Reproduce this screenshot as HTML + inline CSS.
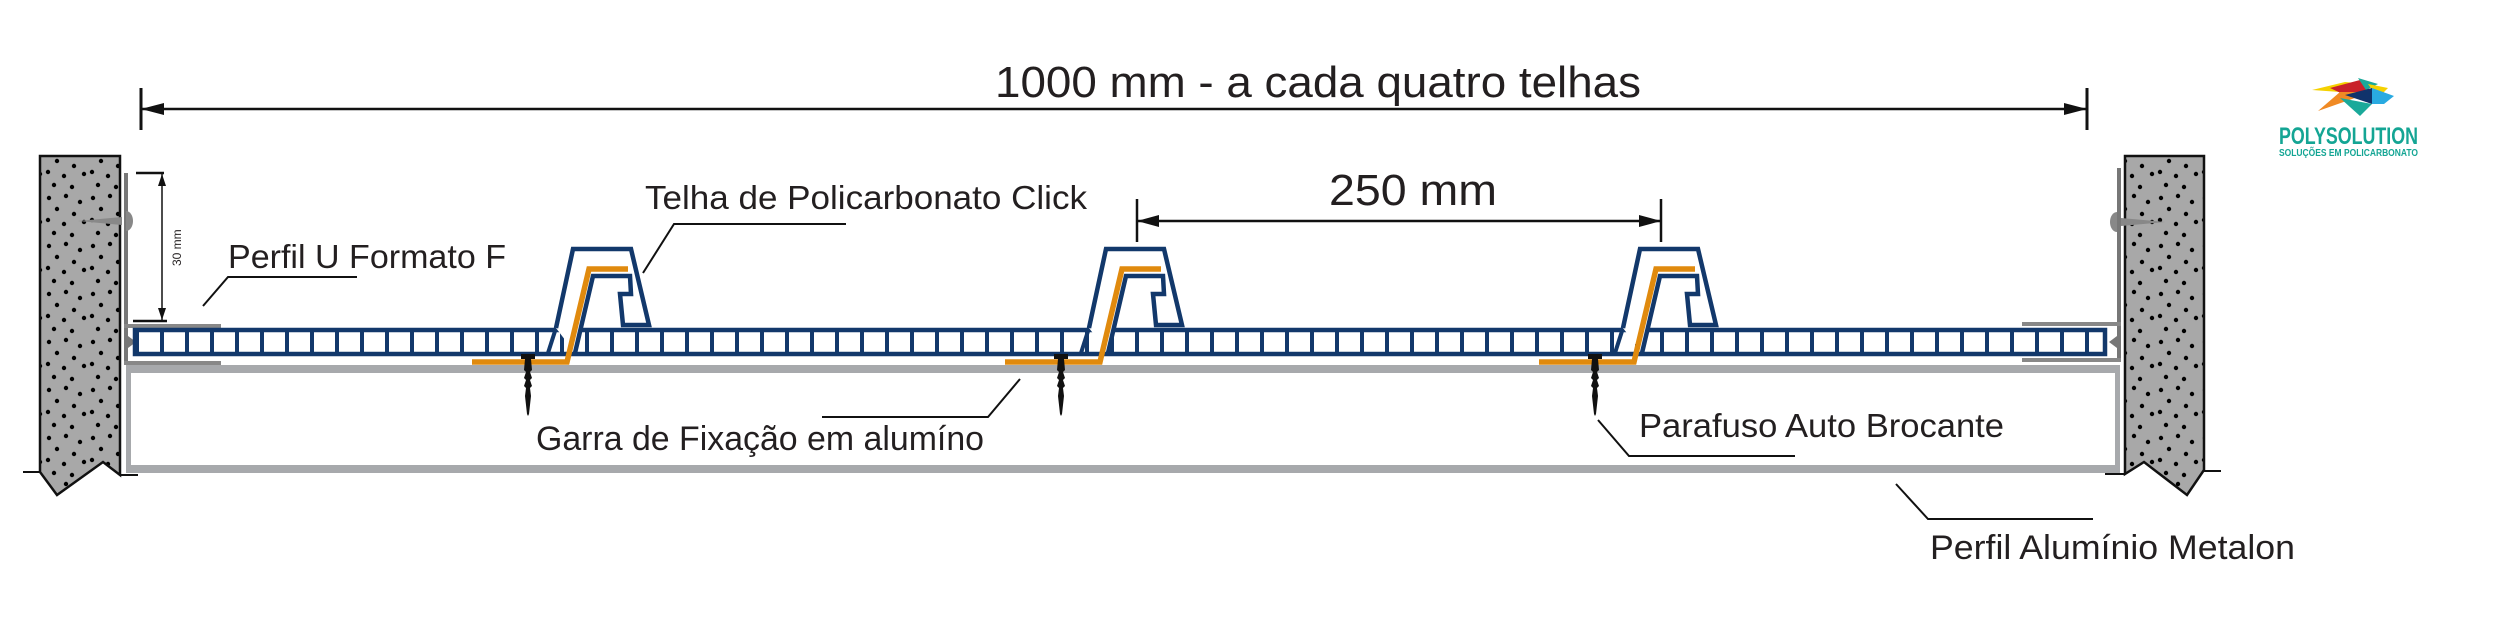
<!DOCTYPE html>
<html><head><meta charset="utf-8"><style>html,body{margin:0;padding:0;background:#fff}svg{display:block}text{font-family:"Liberation Sans",sans-serif;fill:#231f20}</style></head>
<body>
<svg width="2504" height="617" viewBox="0 0 2504 617" xmlns="http://www.w3.org/2000/svg">
<defs>
<pattern id="dots" x="0" y="0" width="44" height="48" patternUnits="userSpaceOnUse">
<g fill="#000">
<circle cx="5" cy="6" r="2.2"/><circle cx="22" cy="4" r="2.2"/><circle cx="36" cy="10" r="2.2"/>
<circle cx="13" cy="17" r="2.2"/><circle cx="30" cy="22" r="2.2"/><circle cx="4" cy="28" r="2.2"/>
<circle cx="20" cy="32" r="2.2"/><circle cx="40" cy="30" r="2.2"/><circle cx="10" cy="41" r="2.2"/>
<circle cx="28" cy="43" r="2.2"/>
</g>
</pattern>
<pattern id="cells" x="135" y="0" width="25" height="617" patternUnits="userSpaceOnUse">
<rect x="0" y="0" width="4" height="617" fill="#12386b"/>
</pattern>
<g id="screw">
<rect x="-7" y="354" width="14" height="5" fill="#111"/>
<polygon points="-3,359 3,359 4,370 2,372 4,378 2,380 4,386 2,388 3,396 1,414 0,416 -1,414 -3,396 -2,388 -4,386 -2,380 -4,378 -2,372 -4,370" fill="#111"/>
</g>
<g id="clip">
<path d="M-17,79 L-25,104" stroke="#12386b" stroke-width="4" fill="none"/>
<path d="M-17,79 L0,0 L58,0 L76,76 L50,76 L47,45 L58,45 L57,27 L20,27 L2,104" stroke="#12386b" stroke-width="4.5" fill="#fff" stroke-linejoin="miter"/>
<path d="M-101,113 L-6,113 L16,20 L55,20" stroke="#e08a0e" stroke-width="5.5" fill="none"/>
<use href="#screw" x="-45" y="-249"/>
</g>
</defs>

<!-- title dimension -->
<text x="995" y="97" font-size="44" textLength="646" lengthAdjust="spacingAndGlyphs">1000 mm - a cada quatro telhas</text>
<line x1="141" y1="109" x2="2087" y2="109" stroke="#111" stroke-width="2.5"/>
<line x1="141" y1="88" x2="141" y2="130" stroke="#111" stroke-width="3"/>
<line x1="2087" y1="88" x2="2087" y2="130" stroke="#111" stroke-width="3"/>
<polygon points="141,109 164,103 164,115" fill="#111"/>
<polygon points="2087,109 2064,103 2064,115" fill="#111"/>

<!-- 250 mm -->
<text x="1329" y="205" font-size="44" textLength="168" lengthAdjust="spacingAndGlyphs">250 mm</text>
<line x1="1137" y1="221" x2="1661" y2="221" stroke="#111" stroke-width="2.5"/>
<line x1="1137" y1="199" x2="1137" y2="242" stroke="#111" stroke-width="2.5"/>
<line x1="1661" y1="199" x2="1661" y2="242" stroke="#111" stroke-width="2.5"/>
<polygon points="1137,221 1159,215 1159,227" fill="#111"/>
<polygon points="1661,221 1639,215 1639,227" fill="#111"/>

<!-- aluminium box -->
<rect x="126" y="365" width="1994" height="8" fill="#a7a9ac"/>
<rect x="126" y="465" width="1994" height="8" fill="#a7a9ac"/>
<rect x="126" y="365" width="5" height="108" fill="#a7a9ac"/>
<rect x="2115" y="365" width="5" height="108" fill="#a7a9ac"/>

<!-- walls -->
<path d="M40,156 L120,156 L120,475 L103,462 L57,495 L40,472 Z" fill="#a8a8a8"/>
<path d="M40,156 L120,156 L120,475 L103,462 L57,495 L40,472 Z" fill="url(#dots)" stroke="#111" stroke-width="2.5"/>
<line x1="23" y1="472" x2="40" y2="472" stroke="#111" stroke-width="2"/>
<line x1="120" y1="475" x2="138" y2="475" stroke="#111" stroke-width="2"/>
<path d="M2125,156 L2204,156 L2204,470 L2187,495 L2144,462 L2125,474 Z" fill="#a8a8a8"/>
<path d="M2125,156 L2204,156 L2204,470 L2187,495 L2144,462 L2125,474 Z" fill="url(#dots)" stroke="#111" stroke-width="2.5"/>
<line x1="2105" y1="474" x2="2125" y2="474" stroke="#111" stroke-width="2"/>
<line x1="2204" y1="471" x2="2221" y2="471" stroke="#111" stroke-width="2"/>

<!-- U profiles -->
<rect x="124" y="173" width="4" height="192" fill="#777"/>
<rect x="124" y="324" width="97" height="4" fill="#888"/>
<rect x="124" y="361" width="97" height="4" fill="#888"/>
<polygon points="128,336 136,342 128,348" fill="#777"/>
<rect x="2117" y="168" width="4" height="194" fill="#777"/>
<rect x="2022" y="322" width="99" height="4" fill="#888"/>
<rect x="2022" y="358" width="99" height="4" fill="#888"/>
<polygon points="2117,336 2109,342 2117,348" fill="#777"/>
<!-- wall screws -->
<polygon points="78,221 122,217 122,225" fill="#888"/>
<path d="M126,211 a7,10 0 0 1 0,20 Z" fill="#888"/>
<polygon points="2165,222 2121,218 2121,226" fill="#888"/>
<path d="M2117,212 a7,10 0 0 0 0,20 Z" fill="#888"/>

<!-- 30mm dimension -->
<line x1="162" y1="174" x2="162" y2="321" stroke="#111" stroke-width="1.5"/>
<line x1="136" y1="173" x2="164" y2="173" stroke="#111" stroke-width="2.5"/>
<line x1="133" y1="321" x2="167" y2="321" stroke="#111" stroke-width="2.5"/>
<polygon points="162,174 158,186 166,186" fill="#111"/>
<polygon points="162,320 158,308 166,308" fill="#111"/>
<text x="0" y="0" font-size="12" transform="translate(181,266) rotate(-90)">30 mm</text>

<!-- panel -->
<rect x="135" y="330" width="1970" height="24" fill="url(#cells)"/>
<rect x="135" y="330" width="1970" height="24" fill="none" stroke="#12386b" stroke-width="4.5"/>

<!-- clips -->
<use href="#clip" transform="translate(573,249)"/>
<use href="#clip" transform="translate(1106,249)"/>
<use href="#clip" transform="translate(1640,249)"/>

<!-- labels -->
<text x="228" y="268" font-size="33" textLength="278" lengthAdjust="spacingAndGlyphs">Perfil U Formato F</text>
<polyline points="357,277 228,277 203,306" fill="none" stroke="#111" stroke-width="2"/>
<text x="645" y="209" font-size="33" textLength="442" lengthAdjust="spacingAndGlyphs">Telha de Policarbonato Click</text>
<polyline points="846,224 674,224 643,273" fill="none" stroke="#111" stroke-width="2"/>
<text x="536" y="450" font-size="34" textLength="448" lengthAdjust="spacingAndGlyphs">Garra de Fixação em alumíno</text>
<polyline points="822,417 988,417 1020,379" fill="none" stroke="#111" stroke-width="2"/>
<text x="1639" y="437" font-size="33" textLength="365" lengthAdjust="spacingAndGlyphs">Parafuso Auto Brocante</text>
<polyline points="1598,420 1629,456 1795,456" fill="none" stroke="#111" stroke-width="2"/>
<text x="1930" y="559" font-size="34" textLength="365" lengthAdjust="spacingAndGlyphs">Perfil Alumínio Metalon</text>
<polyline points="1896,484 1928,519 2093,519" fill="none" stroke="#111" stroke-width="2"/>

<!-- logo -->
<polygon points="2312,90 2345,82 2368,84 2340,92" fill="#f5d100"/>
<polygon points="2330,88 2360,80 2372,92 2345,95" fill="#c9202a"/>
<polygon points="2340,92 2372,92 2318,111" fill="#f08a24"/>
<polygon points="2358,78 2378,84 2366,90" fill="#1aa99a"/>
<polygon points="2368,84 2388,88 2378,98" fill="#f5d100"/>
<polygon points="2345,95 2372,88 2372,104" fill="#10336b"/>
<polygon points="2372,88 2394,96 2384,104 2372,104" fill="#29aae1"/>
<polygon points="2340,98 2372,104 2360,116" fill="#1aa99a"/>
<text x="2279" y="144" font-size="24" font-weight="bold" textLength="139" lengthAdjust="spacingAndGlyphs" style="fill:#14a594">POLYSOLUTION</text>
<text x="2279" y="156" font-size="10" font-weight="bold" textLength="139" lengthAdjust="spacingAndGlyphs" style="fill:#14a594">SOLUÇÕES EM POLICARBONATO</text>
</svg>
</body></html>
